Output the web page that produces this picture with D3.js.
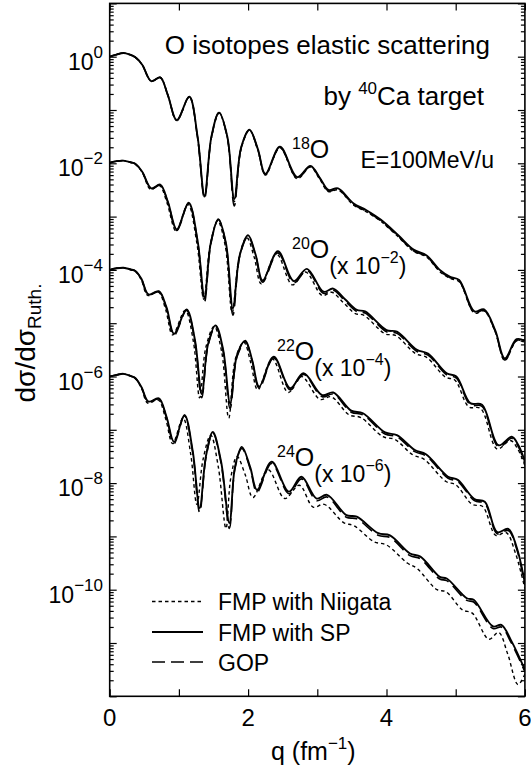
<!DOCTYPE html>
<html><head><meta charset="utf-8">
<script src="https://cdn.jsdelivr.net/npm/d3@7"></script>
<style>
body{margin:0;background:#fff;}
svg{display:block;}
text{font-family:"Liberation Sans",Arial,Helvetica,sans-serif;fill:#000;}
</style></head><body>
<svg id="c" width="531" height="765"></svg>
<script>
// ---------- data: [q (fm^-1), log10(dσ/dσRuth) as plotted] ----------
const qDomain = [0, 6];
const yDomain = [1e-12, 10];
const xTickValues = [0, 1, 2, 3, 4, 5, 6];
const xTickLabels = ["0", "", "2", "", "4", "", "6"];
const yLabelExps = [0, -2, -4, -6, -8, -10];
const isotopes = ["18", "20", "22", "24"];
const scaleExps = [0, -2, -4, -6];
const legendNames = ["FMP with Niigata", "FMP with SP", "GOP"];

const o18_SP = [[0,0.0],[0.1,0.04],[0.2,0.07],[0.29,0.04],[0.37,-0.01],[0.47,-0.15],[0.6,-0.46],[0.73,-0.39],[0.84,-0.72],[0.97,-1.19],[1.15,-0.75],[1.27,-1.5],[1.37,-2.61],[1.47,-1.5],[1.58,-1.05],[1.70,-1.5],[1.80,-2.67],[1.90,-1.7],[2.02,-1.37],[2.14,-1.73],[2.25,-2.2],[2.46,-1.69],[2.71,-2.26],[2.90,-2.05],[3.04,-2.28],[3.16,-2.50],[3.30,-2.47],[3.52,-2.75],[3.71,-2.88],[3.92,-3.06],[4.17,-3.35],[4.39,-3.62],[4.58,-3.73],[4.77,-4.0],[4.92,-4.13],[5.05,-4.19],[5.27,-4.78],[5.41,-4.74],[5.57,-5.13],[5.71,-5.66],[5.88,-5.3],[6.0,-5.33]];
const o18_NG = [[0,0.0],[0.1,0.04],[0.2,0.07],[0.29,0.04],[0.37,-0.01],[0.47,-0.15],[0.6,-0.46],[0.73,-0.39],[0.84,-0.72],[0.97,-1.2],[1.15,-0.76],[1.27,-1.52],[1.37,-2.63],[1.47,-1.52],[1.58,-1.06],[1.70,-1.52],[1.80,-2.72],[1.90,-1.72],[2.02,-1.38],[2.14,-1.75],[2.25,-2.22],[2.46,-1.71],[2.71,-2.29],[2.90,-2.07],[3.04,-2.31],[3.16,-2.53],[3.30,-2.50],[3.52,-2.78],[3.71,-2.91],[3.92,-3.09],[4.17,-3.38],[4.39,-3.65],[4.58,-3.76],[4.77,-4.03],[4.92,-4.16],[5.05,-4.22],[5.27,-4.81],[5.41,-4.77],[5.57,-5.16],[5.71,-5.7],[5.88,-5.33],[6.0,-5.36]];
const o18_GOP = [[0,0.0],[0.1,0.04],[0.2,0.07],[0.29,0.04],[0.37,-0.01],[0.47,-0.15],[0.6,-0.46],[0.73,-0.39],[0.84,-0.72],[0.97,-1.2],[1.15,-0.75],[1.27,-1.52],[1.37,-2.66],[1.47,-1.51],[1.58,-1.05],[1.70,-1.52],[1.80,-2.8],[1.90,-1.71],[2.02,-1.37],[2.14,-1.74],[2.25,-2.21],[2.46,-1.70],[2.71,-2.28],[2.90,-2.06],[3.04,-2.29],[3.16,-2.52],[3.30,-2.49],[3.52,-2.77],[3.71,-2.90],[3.92,-3.08],[4.17,-3.37],[4.39,-3.64],[4.58,-3.75],[4.77,-4.02],[4.92,-4.15],[5.05,-4.21],[5.27,-4.8],[5.41,-4.76],[5.57,-5.15],[5.71,-5.69],[5.88,-5.32],[6.0,-5.35]];

const o20_SP = [[0,-1.99],[0.1,-1.96],[0.2,-1.95],[0.3,-1.98],[0.37,-2.01],[0.47,-2.16],[0.6,-2.47],[0.73,-2.40],[0.84,-2.72],[0.97,-3.24],[1.14,-2.74],[1.27,-3.45],[1.37,-4.51],[1.46,-3.5],[1.57,-3.05],[1.68,-3.5],[1.78,-4.72],[1.88,-3.72],[2.0,-3.35],[2.11,-3.72],[2.21,-4.2],[2.43,-3.65],[2.66,-4.21],[2.85,-3.98],[3.09,-4.41],[3.23,-4.35],[3.40,-4.55],[3.57,-4.75],[3.69,-4.78],[4.0,-5.13],[4.15,-5.16],[4.44,-5.5],[4.60,-5.57],[4.87,-5.94],[5.01,-6.0],[5.21,-6.5],[5.38,-6.53],[5.62,-7.29],[5.81,-7.13],[5.91,-7.3],[6.0,-7.6]];
const o20_NG = [[0,-1.99],[0.1,-1.96],[0.2,-1.95],[0.3,-1.98],[0.37,-2.02],[0.47,-2.17],[0.59,-2.49],[0.72,-2.42],[0.83,-2.75],[0.96,-3.27],[1.13,-2.77],[1.26,-3.5],[1.36,-4.55],[1.45,-3.55],[1.56,-3.08],[1.67,-3.55],[1.77,-4.8],[1.87,-3.77],[1.98,-3.39],[2.09,-3.77],[2.19,-4.26],[2.41,-3.7],[2.64,-4.28],[2.83,-4.04],[3.07,-4.48],[3.21,-4.42],[3.38,-4.62],[3.55,-4.82],[3.67,-4.85],[3.98,-5.2],[4.13,-5.23],[4.42,-5.57],[4.58,-5.64],[4.85,-6.01],[4.99,-6.07],[5.19,-6.57],[5.36,-6.6],[5.60,-7.36],[5.79,-7.2],[5.9,-7.37],[6.0,-7.67]];
const o20_GOP = [[0,-1.99],[0.1,-1.96],[0.2,-1.95],[0.3,-1.98],[0.37,-2.01],[0.47,-2.16],[0.6,-2.48],[0.73,-2.41],[0.84,-2.73],[0.97,-3.26],[1.14,-2.75],[1.27,-3.47],[1.37,-4.6],[1.46,-3.52],[1.57,-3.06],[1.68,-3.52],[1.78,-4.85],[1.88,-3.74],[2.0,-3.37],[2.11,-3.74],[2.21,-4.23],[2.43,-3.68],[2.66,-4.24],[2.85,-4.01],[3.09,-4.44],[3.23,-4.38],[3.40,-4.58],[3.57,-4.78],[3.69,-4.81],[4.0,-5.16],[4.15,-5.19],[4.44,-5.53],[4.60,-5.6],[4.87,-5.97],[5.01,-6.03],[5.21,-6.53],[5.38,-6.56],[5.62,-7.32],[5.81,-7.16],[5.91,-7.33],[6.0,-7.63]];

const o22_SP = [[0,-4.0],[0.1,-3.97],[0.2,-3.96],[0.3,-3.99],[0.37,-4.02],[0.46,-4.17],[0.56,-4.46],[0.71,-4.40],[0.82,-4.7],[0.93,-5.2],[1.11,-4.74],[1.23,-5.3],[1.33,-6.33],[1.42,-5.4],[1.53,-5.04],[1.64,-5.5],[1.74,-6.5],[1.84,-5.6],[1.96,-5.33],[2.06,-5.7],[2.16,-6.19],[2.37,-5.63],[2.61,-6.22],[2.80,-5.94],[3.07,-6.35],[3.23,-6.30],[3.49,-6.64],[3.66,-6.69],[3.98,-7.05],[4.15,-7.10],[4.41,-7.38],[4.57,-7.46],[4.89,-7.88],[5.03,-7.94],[5.27,-8.3],[5.42,-8.35],[5.60,-8.92],[5.76,-8.86],[5.88,-9.2],[6.0,-9.88]];
const o22_NG = [[0,-4.0],[0.1,-3.97],[0.2,-3.96],[0.3,-4.0],[0.37,-4.03],[0.46,-4.2],[0.55,-4.48],[0.70,-4.41],[0.81,-4.75],[0.91,-5.22],[1.09,-4.76],[1.21,-5.35],[1.30,-6.4],[1.39,-5.45],[1.51,-5.06],[1.62,-5.55],[1.72,-6.78],[1.82,-5.65],[1.94,-5.36],[2.04,-5.75],[2.14,-6.25],[2.35,-5.67],[2.58,-6.3],[2.77,-6.0],[3.04,-6.43],[3.20,-6.38],[3.46,-6.72],[3.63,-6.77],[3.95,-7.13],[4.12,-7.18],[4.38,-7.47],[4.54,-7.55],[4.86,-7.97],[5.0,-8.03],[5.24,-8.4],[5.39,-8.44],[5.58,-8.98],[5.73,-8.93],[5.86,-9.3],[6.0,-9.98]];
const o22_GOP = [[0,-4.0],[0.1,-3.97],[0.2,-3.96],[0.3,-3.99],[0.37,-4.02],[0.46,-4.18],[0.56,-4.47],[0.71,-4.41],[0.82,-4.72],[0.93,-5.23],[1.11,-4.76],[1.23,-5.33],[1.33,-6.4],[1.42,-5.43],[1.53,-5.06],[1.64,-5.53],[1.74,-6.6],[1.84,-5.63],[1.96,-5.35],[2.06,-5.72],[2.16,-6.22],[2.37,-5.65],[2.61,-6.25],[2.80,-5.96],[3.07,-6.38],[3.23,-6.33],[3.49,-6.67],[3.66,-6.72],[3.98,-7.08],[4.15,-7.13],[4.41,-7.41],[4.57,-7.49],[4.89,-7.91],[5.03,-7.97],[5.27,-8.33],[5.42,-8.38],[5.60,-8.95],[5.76,-8.89],[5.88,-9.23],[6.0,-9.91]];

const o24_SP = [[0,-6.0],[0.1,-5.97],[0.2,-5.95],[0.3,-5.99],[0.37,-6.03],[0.46,-6.2],[0.56,-6.47],[0.71,-6.41],[0.82,-6.75],[0.93,-7.23],[1.08,-6.72],[1.2,-7.4],[1.30,-8.47],[1.39,-7.5],[1.49,-7.04],[1.61,-7.6],[1.73,-8.75],[1.81,-7.7],[1.91,-7.32],[2.03,-7.7],[2.13,-8.13],[2.34,-7.60],[2.59,-8.16],[2.77,-7.88],[2.99,-8.29],[3.14,-8.22],[3.42,-8.6],[3.57,-8.63],[3.88,-8.94],[4.05,-8.98],[4.34,-9.32],[4.49,-9.38],[4.77,-9.76],[4.87,-9.79],[5.16,-10.16],[5.26,-10.19],[5.54,-10.69],[5.66,-10.66],[5.8,-10.95],[6.0,-11.5]];
const o24_NG = [[0,-6.0],[0.1,-5.97],[0.2,-5.95],[0.3,-5.99],[0.37,-6.04],[0.46,-6.22],[0.55,-6.5],[0.70,-6.44],[0.81,-6.8],[0.91,-7.26],[1.06,-6.78],[1.17,-7.45],[1.26,-8.4],[1.35,-7.55],[1.46,-7.1],[1.57,-7.7],[1.68,-8.85],[1.75,-7.9],[1.84,-7.50],[1.96,-7.85],[2.07,-8.27],[2.29,-7.75],[2.53,-8.29],[2.74,-8.04],[2.94,-8.45],[3.1,-8.40],[3.38,-8.74],[3.53,-8.80],[3.82,-9.1],[4.0,-9.16],[4.3,-9.5],[4.44,-9.6],[4.73,-10.0],[4.86,-10.04],[5.1,-10.38],[5.24,-10.44],[5.48,-10.93],[5.62,-10.8],[5.75,-11.2],[5.9,-11.78],[6.0,-11.58]];
const o24_GOP = [[0,-6.0],[0.1,-5.97],[0.2,-5.95],[0.3,-5.99],[0.37,-6.03],[0.46,-6.21],[0.56,-6.48],[0.71,-6.42],[0.82,-6.77],[0.93,-7.26],[1.08,-6.74],[1.2,-7.43],[1.30,-8.55],[1.39,-7.53],[1.49,-7.06],[1.61,-7.63],[1.73,-8.85],[1.81,-7.73],[1.91,-7.35],[2.03,-7.73],[2.13,-8.17],[2.34,-7.63],[2.59,-8.2],[2.77,-7.92],[2.99,-8.33],[3.14,-8.26],[3.42,-8.64],[3.57,-8.67],[3.88,-8.98],[4.05,-9.02],[4.34,-9.36],[4.49,-9.42],[4.77,-9.8],[4.87,-9.83],[5.16,-10.2],[5.26,-10.23],[5.54,-10.73],[5.66,-10.7],[5.8,-10.99],[6.0,-11.54]];

// ---------- layout ----------
const plot = {left:109.7, right:524.9, top:3.4, bottom:696.3};
const svg = d3.select("#c");
const x = d3.scaleLinear().domain(qDomain).range([plot.left, plot.right]);
const y = d3.scaleLog().domain(yDomain).range([plot.bottom, plot.top]);

const styles = {
  NG:  {dash:"3.5,3", w:1.4},
  SP:  {dash:null,    w:1.9},
  GOP: {dash:"13,6",  w:1.6}
};
const series = [
  {d:o18_NG,s:"NG"},{d:o20_NG,s:"NG"},{d:o22_NG,s:"NG"},{d:o24_NG,s:"NG"},
  {d:o18_GOP,s:"GOP"},{d:o20_GOP,s:"GOP"},{d:o22_GOP,s:"GOP"},{d:o24_GOP,s:"GOP"},
  {d:o18_SP,s:"SP"},{d:o20_SP,s:"SP"},{d:o22_SP,s:"SP"},{d:o24_SP,s:"SP"}
];

svg.append("defs").append("clipPath").attr("id","clip")
  .append("rect").attr("x",plot.left).attr("y",plot.top)
  .attr("width",plot.right-plot.left).attr("height",plot.bottom-plot.top);

const line = d3.line()
  .x(d => x(d[0]))
  .y(d => y(Math.pow(10, d[1])))
  .curve(d3.curveCatmullRom.alpha(0.5));

const gLines = svg.append("g").attr("clip-path","url(#clip)");
series.forEach(sr => {
  const st = styles[sr.s];
  gLines.append("path").datum(sr.d)
    .attr("d", line)
    .attr("fill","none").attr("stroke","#000")
    .attr("stroke-width", st.w)
    .attr("stroke-linejoin","round")
    .attr("stroke-dasharray", st.dash);
});

// ---------- axes ----------
const yTicks = [];
for (let k = -12; k <= 0; k++) for (let m = 1; m <= 9; m++) yTicks.push(m * Math.pow(10, k));
yTicks.push(10);
const isMajor = v => Math.abs(Math.log10(v) - Math.round(Math.log10(v))) < 1e-9;

function styleAxis(g) {
  g.select(".domain").remove();
  g.selectAll(".tick text").remove();
  g.selectAll(".tick line").attr("stroke","#000").attr("stroke-width",1.2);
}
const gL = svg.append("g").attr("transform",`translate(${plot.left},0)`)
  .call(d3.axisLeft(y).tickValues(yTicks).tickSize(-7));
styleAxis(gL);
gL.selectAll(".tick line").attr("x2", d => isMajor(d) ? 7 : 4);
const gR = svg.append("g").attr("transform",`translate(${plot.right},0)`)
  .call(d3.axisRight(y).tickValues(yTicks).tickSize(-7));
styleAxis(gR);
gR.selectAll(".tick line").attr("x2", d => isMajor(d) ? -7 : -4);

const gB = svg.append("g").attr("transform",`translate(0,${plot.bottom})`)
  .call(d3.axisBottom(x).tickValues(xTickValues).tickSize(-7));
styleAxis(gB);
const gT = svg.append("g").attr("transform",`translate(0,${plot.top})`)
  .call(d3.axisTop(x).tickValues(xTickValues).tickSize(-7));
styleAxis(gT);

svg.append("rect").attr("x",plot.left).attr("y",plot.top)
  .attr("width",plot.right-plot.left).attr("height",plot.bottom-plot.top)
  .attr("fill","none").attr("stroke","#000").attr("stroke-width",1.6);

// x tick labels
xTickValues.forEach((v,i) => {
  if (!xTickLabels[i]) return;
  svg.append("text").attr("x", x(v)).attr("y", plot.bottom + 30)
    .attr("text-anchor","middle").attr("font-size",24).text(xTickLabels[i]);
});
// y tick labels
yLabelExps.forEach(e => {
  const yy = y(Math.pow(10, e));
  const t = svg.append("text").attr("x", 103).attr("y", yy + 13)
    .attr("text-anchor","end").attr("font-size",23);
  t.append("tspan").text("10");
  t.append("tspan").attr("font-size",17).attr("dy",-12).text(e === 0 ? "0" : "\u2212" + (-e));
});

// axis titles
const xt = svg.append("text").attr("x",(plot.left+plot.right)/2 - 4).attr("y",760)
  .attr("text-anchor","middle").attr("font-size",25);
xt.append("tspan").text("q (fm");
xt.append("tspan").attr("font-size",17).attr("dy",-11).text("\u22121");
xt.append("tspan").attr("dy",11).text(")");

const yt = svg.append("text").attr("transform","translate(35,343) rotate(-90)")
  .attr("text-anchor","middle").attr("font-size",28);
yt.append("tspan").text("d\u03c3/d\u03c3");
yt.append("tspan").attr("font-size",19).attr("dy",6).text("Ruth.");

// titles
svg.append("text").attr("x",490).attr("y",54).attr("text-anchor","end")
  .attr("font-size",26).text("O isotopes elastic scattering");
const t2 = svg.append("text").attr("x",484).attr("y",105).attr("text-anchor","end").attr("font-size",26);
t2.append("tspan").text("by ");
t2.append("tspan").attr("font-size",17).attr("dy",-11).text("40");
t2.append("tspan").attr("dy",11).text("Ca target");
svg.append("text").attr("x",494).attr("y",167.5).attr("text-anchor","end")
  .attr("font-size",23).text("E=100MeV/u");

// isotope labels
const isoPos = [[292,158],[292,258],[277,360],[277,466]];
isotopes.forEach((m,i) => {
  const [px,py] = isoPos[i];
  const t = svg.append("text").attr("x",px).attr("y",py).attr("font-size",25);
  t.append("tspan").attr("font-size",16).attr("dy",-9).text(m);
  t.append("tspan").attr("dy",9).text("O");
  if (scaleExps[i] !== 0) {
    t.append("tspan").attr("font-size",23).attr("dy",16).text("(x 10");
    t.append("tspan").attr("font-size",16).attr("dy",-11).text("\u2212" + (-scaleExps[i]));
    t.append("tspan").attr("font-size",23).attr("dy",11).text(")");
  }
});

// legend
const legY = [601.5, 632, 662];
const legStyle = ["NG","SP","GOP"];
legendNames.forEach((nm,i) => {
  const st = styles[legStyle[i]];
  svg.append("line").attr("x1",152).attr("x2",203).attr("y1",legY[i]).attr("y2",legY[i])
    .attr("stroke","#000").attr("stroke-width",st.w).attr("stroke-dasharray",st.dash);
  svg.append("text").attr("x",218).attr("y",legY[i]+8.5).attr("font-size",23).text(nm);
});
</script>
</body></html>
